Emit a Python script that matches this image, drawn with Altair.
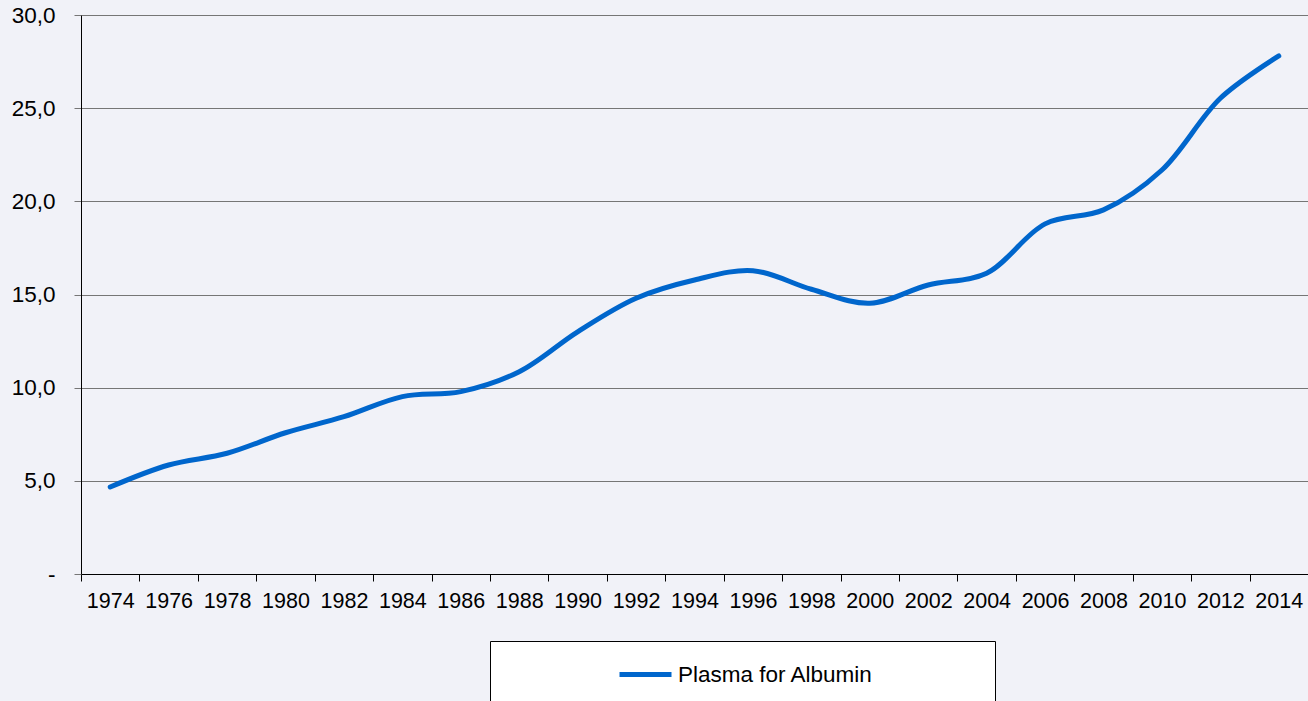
import altair as alt
import pandas as pd

# ---- data ----
years = list(range(1974, 2015, 2))
values = [4.67, 5.85, 6.48, 7.58, 8.44, 9.52, 9.79, 10.86, 13.0, 14.8, 15.78,
          16.28, 15.28, 14.53, 15.51, 16.14, 18.79, 19.54, 21.68, 25.53, 27.8]
series_name = "Plasma for Albumin"
y_ticks = [0, 5, 10, 15, 20, 25, 30]
x_labels = years

df = pd.DataFrame({"year": years, "value": values,
                   "series": [series_name] * len(years)})

W = 1227
H = 559
year_px = W / 42.0
FONT = "Liberation Sans"

line = alt.Chart(df).mark_line(
    interpolate="catmull-rom", strokeWidth=5, strokeCap="round", strokeJoin="round"
).encode(
    x=alt.X("year:Q",
            scale=alt.Scale(domain=[1973, 2015], nice=False, zero=False),
            axis=alt.Axis(values=x_labels, format="d", title=None, grid=False,
                          tickOffset=-year_px, labelOffset=year_px,
                          tickSize=7, tickColor="black", tickWidth=1,
                          domainColor="black", domainWidth=1,
                          labelFontSize=21.5, labelColor="black", labelPadding=9,
                          labelFont=FONT, labelFlush=False, labelOverlap=False)),
    y=alt.Y("value:Q",
            scale=alt.Scale(domain=[0, 30], nice=False),
            axis=alt.Axis(values=y_ticks, title=None, grid=True,
                          gridColor="#767676", gridWidth=1,
                          tickColor="#767676", tickSize=7, tickWidth=1,
                          domainColor="black", domainWidth=1,
                          labelFontSize=22.5, labelColor="black", labelPadding=19,
                          labelFont=FONT,
                          labelExpr="datum.value == 0 ? '-' : replace(format(datum.value, '.1f'), '.', ',')")),
    color=alt.Color("series:N",
                    scale=alt.Scale(domain=[series_name], range=["#0066CC"]),
                    legend=alt.Legend(title=None, orient="none",
                                      legendX=536, legendY=631,
                                      symbolType="stroke", symbolStrokeWidth=5,
                                      symbolSize=2704, labelFontSize=22.5,
                                      labelFont=FONT, labelColor="black",
                                      labelOffset=4, labelLimit=500, padding=0))
)

frame = alt.Chart(pd.DataFrame({"k": [0]})).mark_rect(
    fill="white", stroke="black", strokeWidth=1
).encode(
    x=alt.value(409.5), x2=alt.value(914.5),
    y=alt.value(626.5), y2=alt.value(720)
)

chart = alt.layer(frame, line).properties(
    width=W, height=H,
    autosize=alt.AutoSizeParams(type="none"),
    padding={"left": 81, "top": 15, "right": 0, "bottom": 127},
    background="#F1F2F8"
).configure_view(stroke=None).configure(font=FONT)

chart.save("out.html", embed_options={"renderer": "svg", "actions": False})
